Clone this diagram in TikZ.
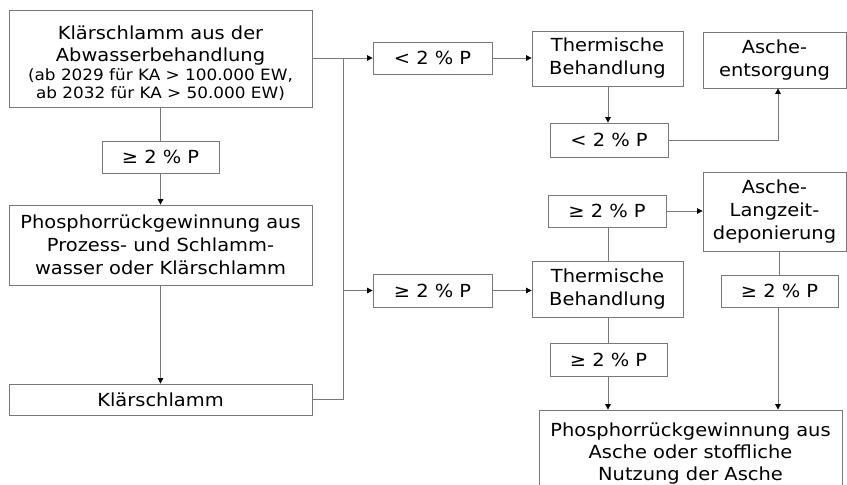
\documentclass[tikz,border=0pt]{standalone}
\usepackage{fontspec}
\setmainfont{DejaVu Sans}[FakeStretch=1.08]
\usetikzlibrary{arrows.meta}
\definecolor{ln}{RGB}{120,120,120}
\begin{document}
\begin{tikzpicture}[x=1pt,y=-1pt,
  box/.style={draw=ln,line width=0.8pt,rectangle,inner sep=0pt,align=center,
    font=\fontsize{18}{23}\selectfont,text=black},
  conn/.style={draw=ln,line width=0.8pt},
  arr/.style={conn,-{Triangle[length=5.5pt,width=5.5pt,fill=black,color=black]}}]
\useasboundingbox (0,0) rectangle (847,485);
\node[box,minimum width=303pt,minimum height=97pt,font=\fontsize{18}{21.5}\selectfont] (A) at (160.5,58.5)
  {\rule{0pt}{24pt}Klärschlamm aus der\\Abwasserbehandlung\\[-2.5pt]
   {\fontsize{15.6}{19}\selectfont (ab 2029 für KA > 100.000 EW,}\\[-3pt]
   {\fontsize{15.6}{19}\selectfont ab 2032 für KA > 50.000 EW)}};
\node[box,minimum width=117pt,minimum height=32pt] (pge1) at (160.5,157) {≥ 2 \% P};
\node[box,minimum width=303pt,minimum height=80pt] (prg) at (160.5,245)
  {Phosphorrückgewinnung aus\\Prozess- und Schlamm-\\wasser oder Klärschlamm};
\node[box,minimum width=303pt,minimum height=31pt] (ks) at (160.5,399.5) {Klärschlamm};
\node[box,minimum width=119pt,minimum height=32pt] (lt1) at (432.5,58) {< 2 \% P};
\node[box,minimum width=151pt,minimum height=55pt] (th1) at (607.5,58.5) {Thermische\\Behandlung};
\node[box,minimum width=143pt,minimum height=56pt] (ae) at (774.5,60) {Asche-\\entsorgung};
\node[box,minimum width=118pt,minimum height=34pt] (lt2) at (609,140) {< 2 \% P};
\node[box,minimum width=118pt,minimum height=32pt] (geup) at (607,211) {≥ 2 \% P};
\node[box,minimum width=143pt,minimum height=79pt] (ald) at (774.5,211.5) {Asche-\\Langzeit-\\deponierung};
\node[box,minimum width=119pt,minimum height=33pt] (gemid) at (432.5,290.5) {≥ 2 \% P};
\node[box,minimum width=151pt,minimum height=56pt] (th2) at (607.5,289) {Thermische\\Behandlung};
\node[box,minimum width=117pt,minimum height=32pt] (geri) at (779.5,291) {≥ 2 \% P};
\node[box,minimum width=117pt,minimum height=33pt] (gelo) at (608.5,359.5) {≥ 2 \% P};
\node[box,minimum width=303pt,minimum height=88pt,font=\fontsize{18}{22}\selectfont] (fin) at (690.5,454)
  {Phosphorrückgewinnung aus\\Asche oder stoffliche\\Nutzung der Asche};
% junction column
\coordinate (jx) at (343,0);
\coordinate (ax) at (778,0);
\coordinate (tx) at (608,0);
\draw[conn] (A.east) -- (A.east -| jx) -- (ks.east -| jx) -- (ks.east);
\draw[arr] (lt1.west -| jx) -- (lt1.west);
\draw[arr] (gemid.west -| jx) -- (gemid.west);
% left column
\draw[conn] (A.south) -- (pge1.north);
\draw[arr] (pge1.south) -- (prg.north);
\draw[arr] (prg.south) -- (ks.north);
% upper right
\draw[arr] (lt1.east) -- (lt1.east -| th1.west);
\draw[arr] (th1.south -| tx) -- (lt2.north -| tx);
\draw[arr] (lt2.east) -- (lt2.east -| ax) -- (ae.south -| ax);
% lower right
\draw[arr] (gemid.east) -- (gemid.east -| th2.west);
\draw[conn] (th2.north -| tx) -- (geup.south -| tx);
\draw[arr] (geup.east) -- (geup.east -| ald.west);
\draw[conn] (ald.south -| geri.north) -- (geri.north);
\draw[conn] (th2.south -| tx) -- (gelo.north -| tx);
\draw[arr] (gelo.south -| tx) -- (fin.north -| tx);
\draw[arr] (geri.south -| ax) -- (fin.north -| ax);
\end{tikzpicture}
\end{document}
